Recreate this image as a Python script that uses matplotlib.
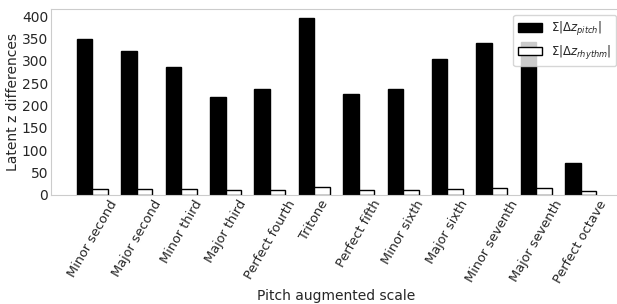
import numpy as np
import matplotlib
matplotlib.use("Agg")
import matplotlib.pyplot as plt
import seaborn as sns

# ── Data ───────────────────────────────────
intervals = ["Minor second", "Major second", "Minor third", "Major third",
             "Perfect fourth", "Tritone", "Perfect fifth", "Minor sixth",
             "Major sixth", "Minor seventh", "Major seventh", "Perfect octave"]
pitch_diff = [348, 321, 286, 220, 237, 396, 225, 237, 304, 339, 341, 71]
rhythm_diff = [14, 14, 14, 11, 11, 17, 10.5, 10.5, 12.5, 15.5, 15.5, 9]

sns.set_style("white")
plt.rcParams["font.family"] = ["DejaVu Sans"]

fig = plt.figure(figsize=(6.17, 3.04), dpi=100)
ax = fig.add_axes([51 / 617, 109 / 304, 571 / 617, 186 / 304])

w = 0.35
x = np.arange(len(intervals))
ax.bar(x, pitch_diff, width=w, color="black", edgecolor="black",
       label=r"$\Sigma|\Delta z_{pitch}|$")
ax.bar(x + w, rhythm_diff, width=w, color="white", edgecolor="black",
       linewidth=1, label=r"$\Sigma|\Delta z_{rhythm}|$")

ax.set_xticks(x + w / 2)
ax.set_xticklabels(intervals, rotation=60, fontsize=9.3)
ax.set_yticks(np.arange(0, 401, 50))
ax.tick_params(axis="y", labelsize=10)
ax.tick_params(length=0, pad=2)
ax.set_xlabel("Pitch augmented scale", fontsize=10, labelpad=3)
ax.set_ylabel("Latent z differences", fontsize=10, labelpad=1)

for side in ["left", "bottom", "top", "right"]:
    ax.spines[side].set_color("#cccccc")

ax.legend(loc="upper right", fontsize=8.5, framealpha=0.8, edgecolor="#cccccc")

fig.savefig("out.png", dpi=100)
